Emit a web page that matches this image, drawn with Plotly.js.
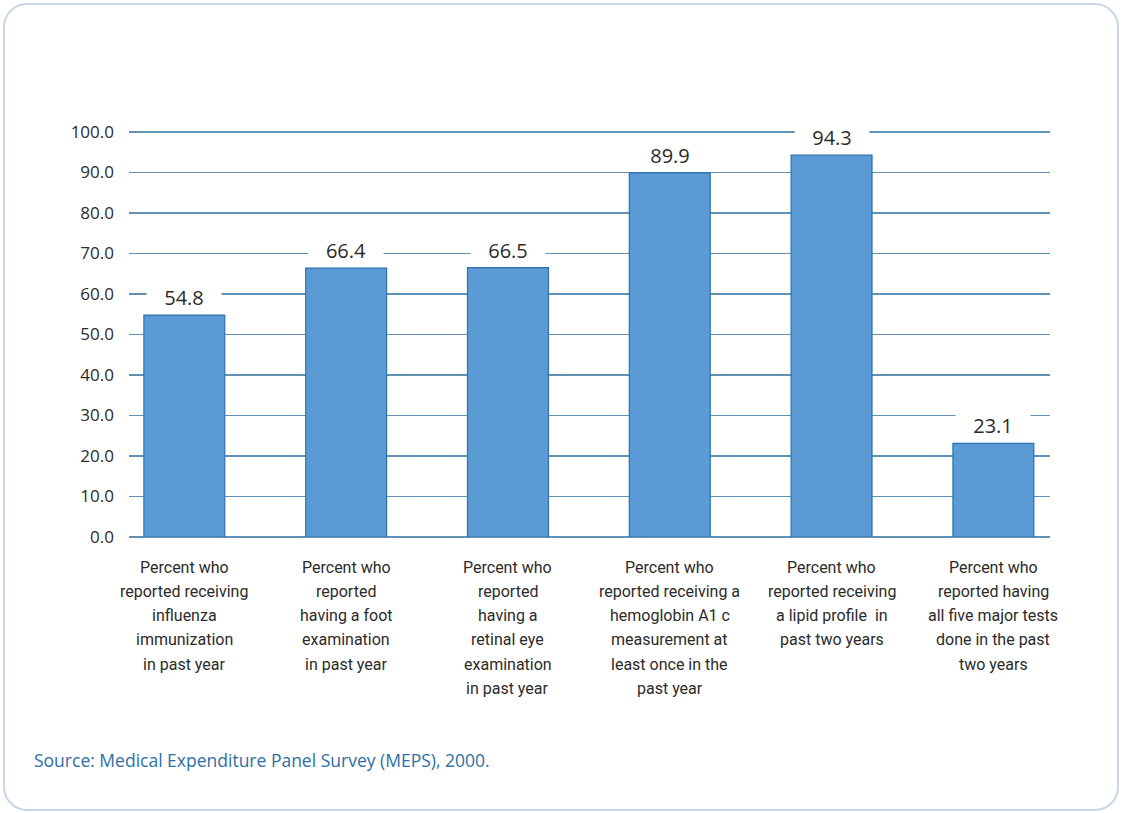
<!DOCTYPE html>
<html>
<head>
<meta charset="utf-8">
<script src="https://cdn.plot.ly/plotly-3.0.1.min.js"></script>
<style>
  html, body { margin: 0; padding: 0; background: #ffffff; }
  #frame {
    position: absolute; left: 3px; top: 3px; width: 1112px; height: 804px;
    border: 2px solid #c9d6e8; border-radius: 24px; background: #ffffff;
  }
  #chart { position: absolute; left: 0; top: 0; width: 1122px; height: 813px; }
</style>
</head>
<body>
<div id="frame"></div>
<div id="chart"></div>
<script>
// Diabetes care indicators, adults with diabetes (MEPS 2000)
const categories = [
  "Percent who<br>reported receiving<br>influenza<br>immunization<br>in past year",
  "Percent who<br>reported<br>having a foot<br>examination<br>in past year",
  "Percent who<br>reported<br>having a<br>retinal eye<br>examination<br>in past year",
  "Percent who<br>reported receiving a<br>hemoglobin A1 c<br>measurement at<br>least once in the<br>past year",
  "Percent who<br>reported receiving<br>a lipid profile  in<br>past two years",
  "Percent who<br>reported having<br>all five major tests<br>done in the past<br>two years"
];
const percents = [54.8, 66.4, 66.5, 89.9, 94.3, 23.1];
const yTickValues = [0, 10, 20, 30, 40, 50, 60, 70, 80, 90, 100];
const sourceNote = "Source: Medical Expenditure Panel Survey (MEPS), 2000.";

const textColor = "#2b2b2b";
const gridColor = "#6192b5";

const trace = {
  type: "bar",
  x: categories,
  y: percents,
  width: 0.5,
  marker: { color: "#5b9bd5", line: { color: "#2e72ad", width: 1.2 } },
  hoverinfo: "skip"
};

const annotations = [];

// value labels on a white patch that breaks the gridlines
percents.forEach((v, i) => {
  annotations.push({
    x: categories[i], y: v, xref: "x", yref: "y",
    text: v.toFixed(1), showarrow: false,
    yanchor: "middle", yshift: 18,
    width: 72, height: 26, bgcolor: "#ffffff",
    font: { family: "Open Sans, sans-serif", size: 20, color: textColor }
  });
});

// category labels, one annotation per line for loose leading
categories.forEach((c, i) => {
  c.split("<br>").forEach((line, k) => {
    annotations.push({
      x: categories[i], y: 0, xref: "x", yref: "y",
      text: line, showarrow: false,
      xanchor: "center", yanchor: "middle",
      yshift: -30 - k * 24.3,
      font: { family: "Roboto, sans-serif", size: 16, color: textColor }
    });
  });
});

annotations.push({
  x: 0, y: 0, xref: "paper", yref: "paper",
  xanchor: "left", yanchor: "middle", xshift: -97, yshift: -223,
  text: sourceNote, showarrow: false,
  font: { family: "Open Sans, sans-serif", size: 17.5, color: "#2d6fa6" }
});

const layout = {
  width: 1122, height: 813,
  margin: { l: 129, r: 72, t: 128, b: 276 },
  paper_bgcolor: "rgba(0,0,0,0)",
  plot_bgcolor: "rgba(0,0,0,0)",
  showlegend: false,
  bargap: 0,
  xaxis: {
    type: "category",
    range: [-0.342, 5.35],
    showticklabels: false,
    showgrid: false, zeroline: false, showline: false, ticks: ""
  },
  yaxis: {
    range: [0, 101],
    tickvals: yTickValues,
    tickformat: ".1f",
    showgrid: true, gridcolor: gridColor, gridwidth: 1.5,
    zeroline: true, zerolinecolor: gridColor, zerolinewidth: 2,
    showline: false, ticks: "",
    ticklabelstandoff: 14,
    tickfont: { family: "Open Sans, sans-serif", size: 17, color: textColor }
  },
  annotations: annotations
};

Plotly.newPlot("chart", [trace], layout, { displayModeBar: false, staticPlot: true });
</script>
</body>
</html>
